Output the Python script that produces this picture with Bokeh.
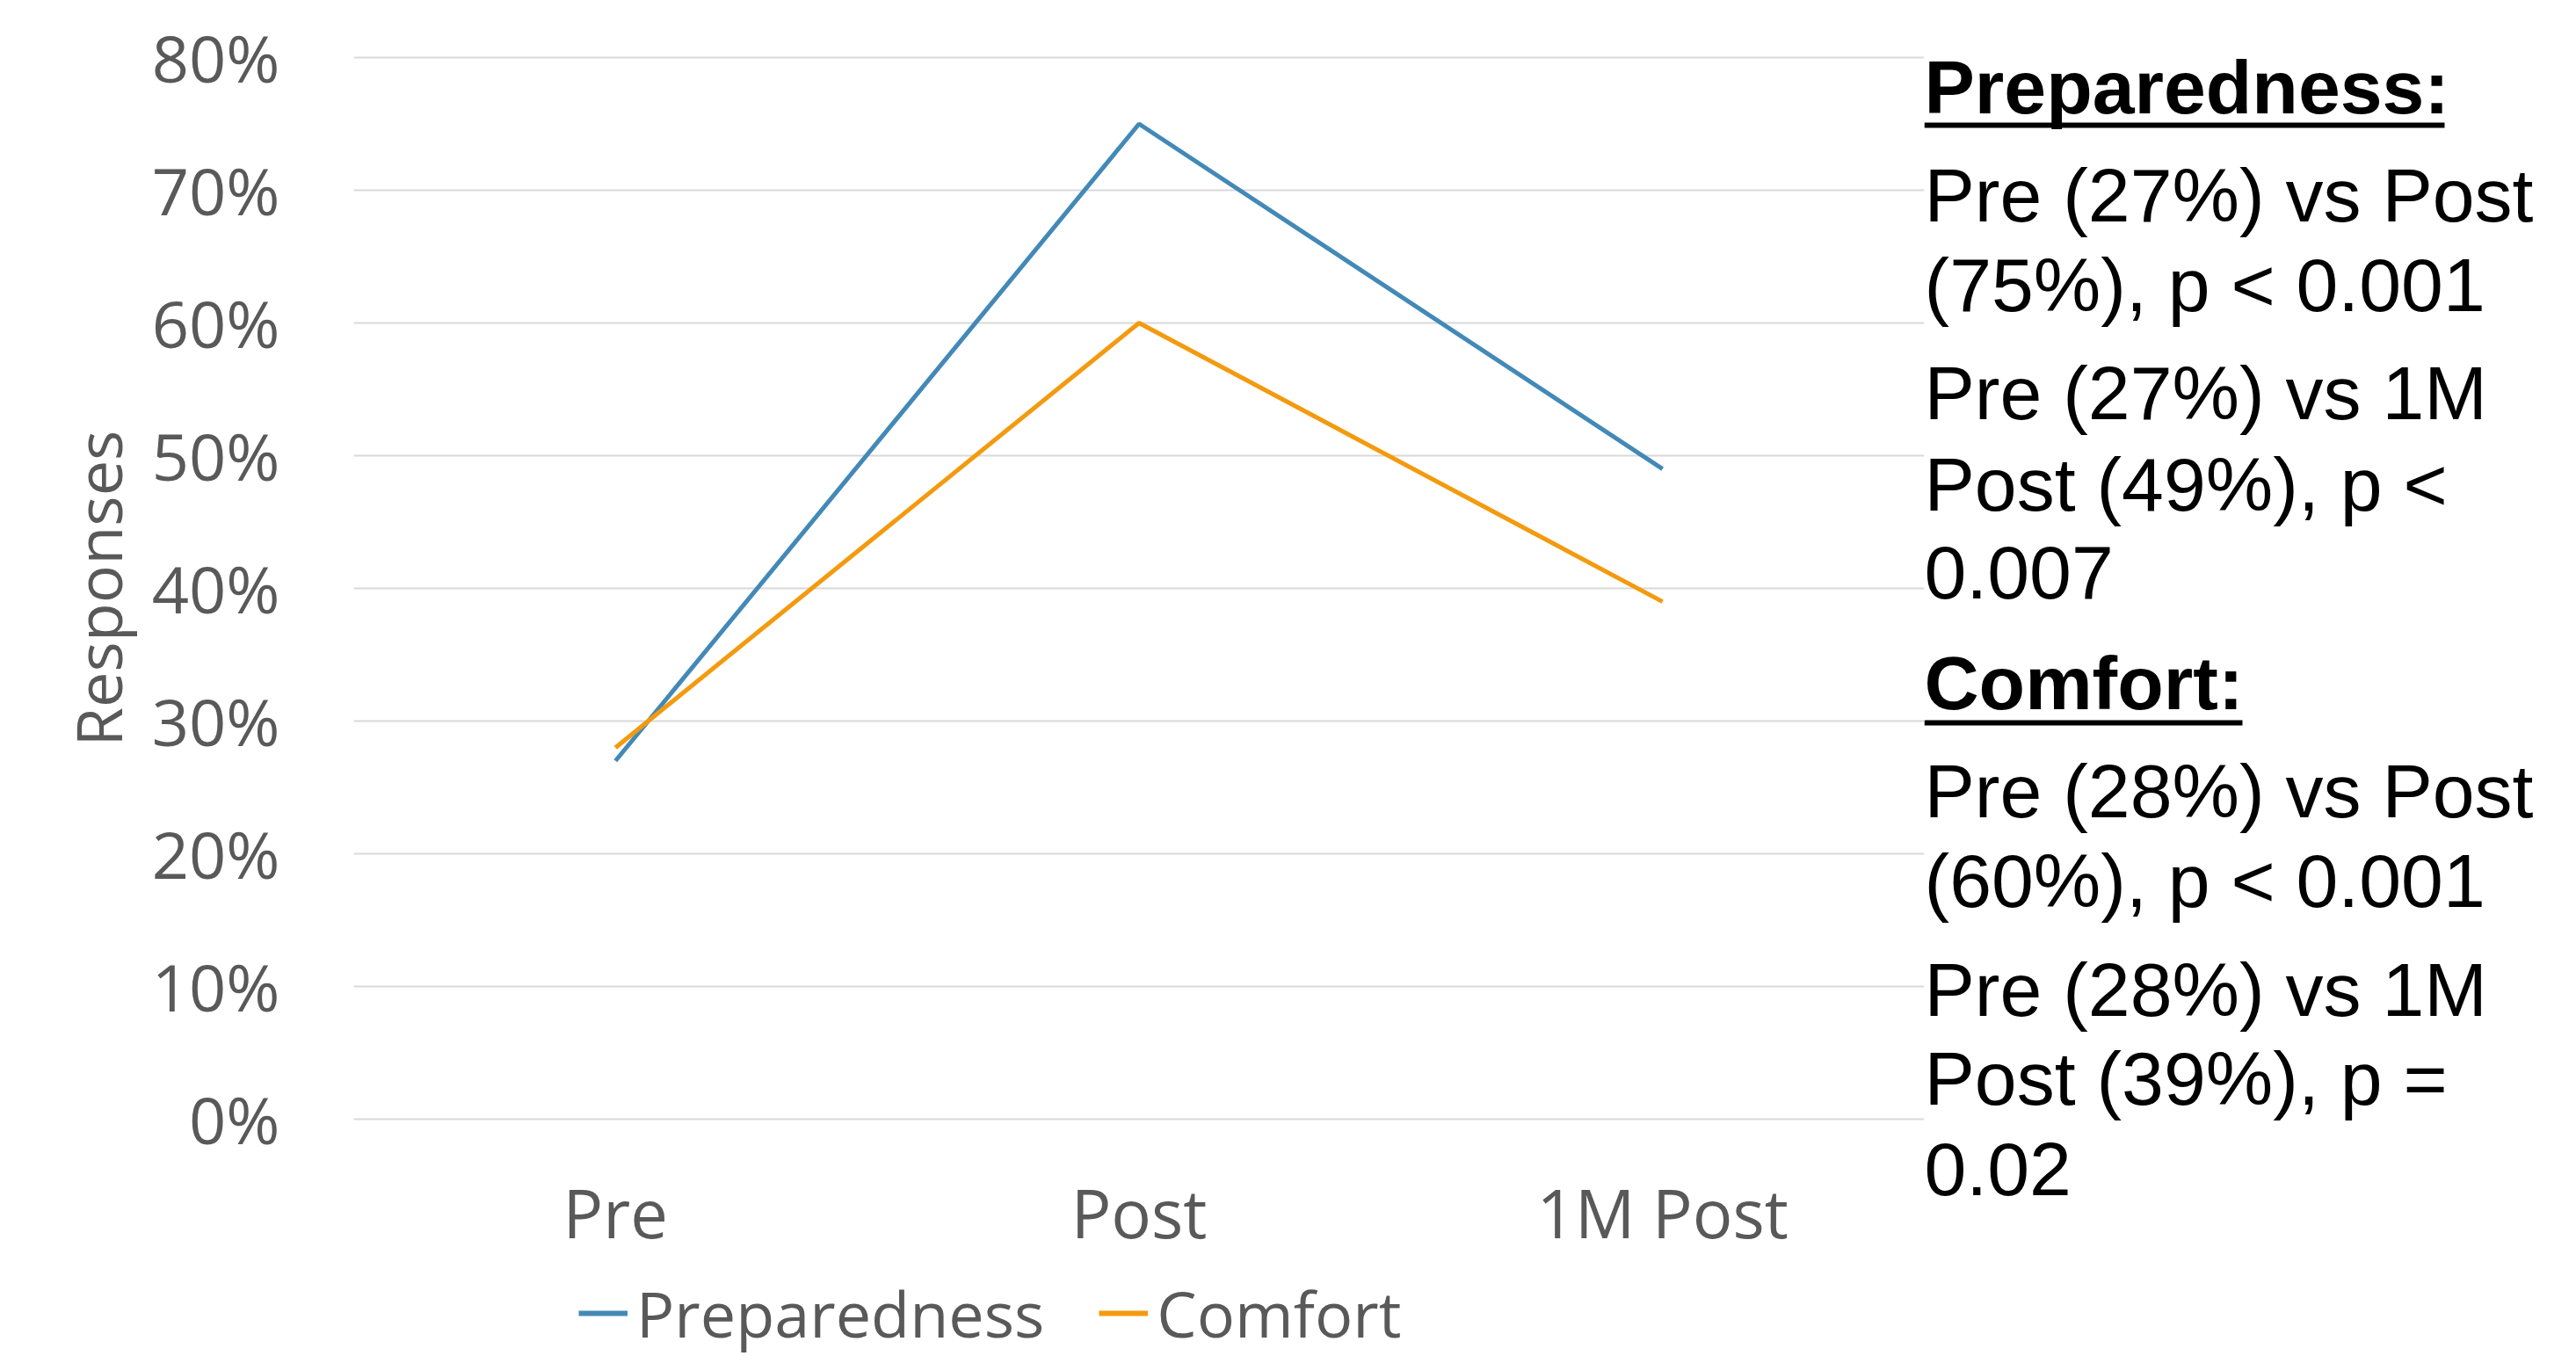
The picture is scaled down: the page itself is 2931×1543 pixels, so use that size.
from bokeh.plotting import figure
from bokeh.layouts import row, column
from bokeh.models import (Range1d, FactorRange, NumeralTickFormatter, Label,
                          Legend, LegendItem, FixedTicker)
from bokeh.embed import file_html
from bokeh.resources import INLINE

# ---------------- data ----------------
categories = ["Pre", "Post", "1M Post"]
preparedness = [0.27, 0.75, 0.49]
comfort = [0.28, 0.60, 0.39]
y_ticks = [0.0, 0.1, 0.2, 0.3, 0.4, 0.5, 0.6, 0.7, 0.8]

heading_prep = "Preparedness:"
notes_prep = ["Pre (27%) vs Post", "(75%), p < 0.001", "Pre (27%) vs 1M",
              "Post (49%), p <", "0.007"]
heading_comf = "Comfort:"
notes_comf = ["Pre (28%) vs Post", "(60%), p < 0.001", "Pre (28%) vs 1M",
              "Post (39%), p =", "0.02"]

# ---------------- layout ----------------
H = 1543
H_MAIN = 1445
H_LEG = H - H_MAIN
W_MAIN = 2189
W_SIDE = 2915 - W_MAIN
YMIN, YMAX = -0.004, 0.804          # tiny padding so 0% and 80% grid lines show
FL, FT, FB = 402, 59, 1279          # frame edges (pixels)
BLUE = "#4389B8"
ORANGE = "#F39A0E"
GREY = "#595959"
AXFONT = "Open Sans"
TXFONT = "Liberation Sans"


def no_align(fig):
    if "frame_align" in fig.properties():
        fig.frame_align = False


p = figure(width=W_MAIN, height=H_MAIN, x_range=FactorRange(*categories, range_padding=0),
           y_range=Range1d(YMIN, YMAX), output_backend="svg", toolbar_location=None,
           min_border_left=FL, min_border_right=0, min_border_top=FT,
           min_border_bottom=H_MAIN - FB)
p.outline_line_color = None
p.background_fill_color = "white"
p.border_fill_color = "white"
no_align(p)

# grid
p.xgrid.grid_line_color = None
p.ygrid.grid_line_color = "#D9D9D9"
p.ygrid.grid_line_width = 2

# y axis
ya = p.yaxis[0]
ya.ticker = FixedTicker(ticks=y_ticks)
ya.formatter = NumeralTickFormatter(format="0%")
ya.axis_line_color = None
ya.major_tick_line_color = None
ya.minor_tick_line_color = None
ya.major_tick_out = 0
ya.major_tick_in = 0
ya.major_label_standoff = 84
ya.major_label_text_font = AXFONT
ya.major_label_text_font_size = "74px"
ya.major_label_text_color = GREY
ya.axis_label = "Responses"
ya.axis_label_text_font = AXFONT
ya.axis_label_text_font_size = "72px"
ya.axis_label_text_font_style = "normal"
ya.axis_label_text_color = GREY
ya.axis_label_standoff = 10

# x axis
xa = p.xaxis[0]
xa.axis_line_color = None
xa.major_tick_line_color = None
xa.minor_tick_line_color = None
xa.major_tick_out = 0
xa.major_tick_in = 0
xa.major_label_standoff = 48
xa.major_label_text_font = AXFONT
xa.major_label_text_font_size = "76px"
xa.major_label_text_color = GREY

# lines
p.line(categories, preparedness, line_color=BLUE, line_width=5)
p.line(categories, comfort, line_color=ORANGE, line_width=5)

# ---------------- legend strip under the chart ----------------
# same series drawn far outside this strip's visible y-range; only the legend shows
lg = figure(width=W_MAIN, height=H_LEG, x_range=FactorRange(*categories, range_padding=0),
            y_range=Range1d(10, 11), x_axis_type=None, y_axis_type=None,
            output_backend="svg", toolbar_location=None, min_border_left=FL,
            min_border_right=0, min_border_top=0, min_border_bottom=0)
lg.outline_line_color = None
lg.background_fill_color = "white"
lg.border_fill_color = "white"
lg.xgrid.visible = False
lg.ygrid.visible = False
no_align(lg)
lr1 = lg.line(categories, preparedness, line_color=BLUE, line_width=6)
lr2 = lg.line(categories, comfort, line_color=ORANGE, line_width=6)
legend = Legend(items=[LegendItem(label="Preparedness", renderers=[lr1]),
                       LegendItem(label="Comfort", renderers=[lr2])],
                orientation="horizontal", location=(256, 0),
                padding=0, margin=0, spacing=62, label_standoff=10,
                glyph_width=56, glyph_height=40,
                border_line_color=None, background_fill_alpha=0,
                label_text_font=AXFONT, label_text_font_size="72px",
                label_text_color=GREY)
lg.add_layout(legend, "center")

# ---------------- side panel with the notes ----------------
s = figure(width=W_SIDE, height=H, x_range=Range1d(0, W_SIDE), y_range=Range1d(H, 0),
           x_axis_type=None, y_axis_type=None, output_backend="svg",
           toolbar_location=None, min_border=0)
s.outline_line_color = None
s.background_fill_color = "white"
s.border_fill_color = "white"
no_align(s)

FS = "86px"
DY = -32   # baseline correction of the label renderer


def add_text(txt, yb, bold=False):
    s.add_layout(Label(x=0, y=yb + DY, text=txt, text_font=TXFONT, text_font_size=FS,
                       text_font_style="bold" if bold else "normal",
                       text_color="black", text_baseline="alphabetic",
                       text_align="left"))


add_text(heading_prep, 130, bold=True)
s.segment(x0=[0], y0=[142], x1=[592], y1=[142], line_color="black", line_width=6)
for t, yb in zip(notes_prep, [253, 355, 478, 582, 683]):
    add_text(t, yb)
add_text(heading_comf, 808, bold=True)
s.segment(x0=[0], y0=[822], x1=[362], y1=[822], line_color="black", line_width=6)
for t, yb in zip(notes_comf, [931, 1033, 1157, 1258, 1362]):
    add_text(t, yb)

layout = row(column(p, lg, spacing=0), s, spacing=0)
open("out.html", "w").write(file_html(layout, INLINE))
